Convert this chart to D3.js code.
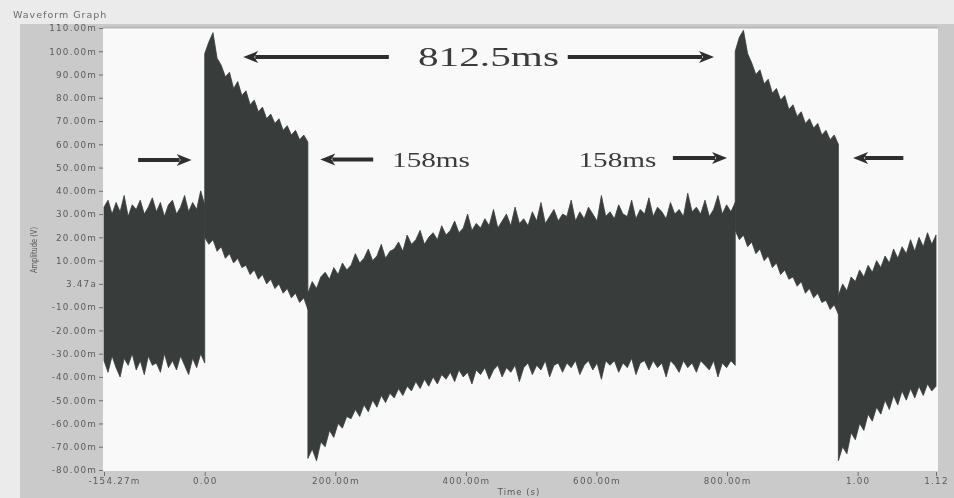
<!DOCTYPE html>
<html>
<head>
<meta charset="utf-8">
<script src="https://cdn.jsdelivr.net/npm/d3@7/dist/d3.min.js"></script>
<style>
  html, body { margin: 0; padding: 0; background: #ebebeb; }
  svg { display: block; }
  .axis text { font-family: "DejaVu Sans", sans-serif; font-size: 8.8px; fill: #5a5a5a; letter-spacing: 1.2px; }
  .axis line { stroke: #6f6f6f; }
  .axis path { display: none; }
  .note { font-family: "Liberation Serif", "Times New Roman", serif; fill: #3a3a3a; }
</style>
</head>
<body>
<svg id="chart" width="954" height="498"></svg>
<script>
// time spans of the five parts of the trace (ms)
var segmentStartMs = [-154.27, 0, 158, 812.5, 970.5];
var segmentEndMs = [0, 158, 812.5, 970.5, 1120];

// envelope of the trace, mV
var upperPre = [33, 36, 30, 35, 31, 38, 29, 34, 32, 36, 30, 33, 37, 31, 35, 29, 34, 36, 30, 33, 38, 31, 35, 32, 40, 34];
var lowerPre = [-33, -38, -31, -36, -40, -32, -35, -30, -37, -33, -39, -31, -35, -34, -38, -30, -36, -33, -37, -31, -35, -39, -32, -36, -30, -34];

var upperPulse1 = [99, 104, 108, 97, 94, 89, 91, 84, 87, 81, 83, 77, 79, 74, 76, 71, 73, 69, 71, 66, 68, 64, 66, 62, 64, 61];
var lowerPulse1 = [20, 17, 19, 14, 16, 11, 13, 9, 11, 7, 8, 4, 6, 2, 4, 0, 2, -2, 0, -4, -2, -6, -4, -8, -6, -11];

var upperMid = [
  -4, 1, -2, 3, 5, 2, 7, 4, 9, 6,
  8, 13, 9, 11, 15, 10, 12, 17, 11, 14,
  15, 18, 14, 21, 17, 19, 23, 17, 20, 22,
  19, 25, 21, 23, 27, 22, 24, 30, 23, 26,
  24, 28, 25, 32, 24, 27, 30, 25, 33, 26,
  28, 25, 31, 27, 35, 26, 29, 32, 27, 30,
  29, 36, 27, 31, 28, 33, 30, 27, 38, 29,
  31, 28, 34, 30, 29, 36, 28, 32, 30, 37,
  29, 33, 31, 28, 35, 30, 32, 29, 39, 31,
  33, 30, 36, 29, 32, 38, 30, 34, 31, 35
];
var lowerMid = [
  -75, -71, -76, -68, -70, -63, -66, -60, -62, -57,
  -58, -54, -57, -52, -55, -50, -53, -48, -51, -47,
  -49, -45, -48, -44, -46, -42, -45, -41, -44, -40,
  -43, -39, -41, -38, -42, -37, -40, -38, -43, -37,
  -39, -36, -41, -37, -35, -40, -36, -38, -35, -42,
  -36, -34, -39, -35, -37, -33, -40, -35, -34, -38,
  -34, -36, -33, -39, -35, -33, -37, -34, -41, -33,
  -35, -33, -38, -34, -36, -32, -39, -34, -33, -37,
  -33, -36, -34, -40, -33, -35, -38, -33, -36, -34,
  -38, -33, -35, -37, -33, -40, -34, -36, -33, -35
];

var upperPulse2 = [100, 106, 109, 99, 95, 90, 92, 86, 88, 82, 84, 79, 81, 75, 77, 72, 74, 69, 71, 67, 69, 64, 66, 62, 64, 60];
var lowerPulse2 = [23, 19, 21, 16, 18, 13, 15, 10, 12, 7, 9, 4, 6, 2, 3, -1, 1, -4, -2, -6, -4, -8, -7, -11, -9, -13];

var upperPost = [-5, 0, -3, 3, 1, 6, 3, 8, 5, 10, 7, 12, 9, 15, 11, 16, 13, 19, 14, 20, 16, 22, 17, 21];
var lowerPost = [-76, -70, -73, -64, -67, -60, -63, -56, -59, -53, -56, -50, -54, -48, -52, -46, -50, -45, -49, -44, -48, -43, -46, -44];

var upperSeries = [upperPre, upperPulse1, upperMid, upperPulse2, upperPost];
var lowerSeries = [lowerPre, lowerPulse1, lowerMid, lowerPulse2, lowerPost];

// axis ticks
var yTickValues = [110, 100, 90, 80, 70, 60, 50, 40, 30, 20, 10, 0, -10, -20, -30, -40, -50, -60, -70, -80];
var yTickLabels = ["110.00m", "100.00m", "90.00m", "80.00m", "70.00m", "60.00m", "50.00m", "40.00m", "30.00m", "20.00m", "10.00m", "3.47a",
  "-10.00m", "-20.00m", "-30.00m", "-40.00m", "-50.00m", "-60.00m", "-70.00m", "-80.00m"];
var xTickValues = [-154.27, 0, 200, 400, 600, 800, 1000, 1120];
var xTickLabels = ["-154.27m", "0.00", "200.00m", "400.00m", "600.00m", "800.00m", "1.00", "1.12"];

// hand drawn annotations (ms / mV)
var arrowFromMs = [282, 556, -102, 258, 717, 1070];
var arrowToMs = [59, 780, -20, 177, 800, 993];
var arrowLevelMv = [97.5, 97.5, 53.3, 53.5, 54.1, 54.1];
var noteLabels = ["812.5ms", "158ms", "158ms"];
var noteMs = [434.6, 346.6, 632.2];
var noteMv = [93.7, 50.2, 50.2];

var svg = d3.select('#chart');
var defs = svg.append('defs');
defs.append('filter').attr('id', 'soft').append('feGaussianBlur').attr('stdDeviation', 0.55);

var root = svg.append('g').attr('filter', 'url(#soft)');

var x = d3.scaleLinear().domain([-154.27, 1120]).range([104, 936]);
var y = d3.scaleLinear().domain([-80, 110]).range([470, 28]);

// panel + plot background
root.append('rect').attr('x', 20).attr('y', 24).attr('width', 934).attr('height', 474).attr('fill', '#cacaca');
root.append('rect').attr('x', 103).attr('y', 28).attr('width', 835).attr('height', 443).attr('fill', '#f9f9f9');
root.append('line').attr('x1', 103).attr('x2', 938).attr('y1', 27.5).attr('y2', 27.5).attr('stroke', '#b8b8b8').attr('stroke-width', 2);

root.append('text').attr('x', 13).attr('y', 18)
  .style('font-family', '"DejaVu Sans", sans-serif').style('font-size', '9.5px').style('letter-spacing', '1px')
  .attr('fill', '#6a6a6a').text('Waveform Graph');

// trace
var area = d3.area()
  .x(function(d) { return x(d.t); })
  .y0(function(d) { return y(d.lo); })
  .y1(function(d) { return y(d.hi); });

var segments = segmentStartMs.map(function(start, s) {
  var hi = upperSeries[s], lo = lowerSeries[s], end = segmentEndMs[s];
  return hi.map(function(v, i) {
    return { t: start + i * (end - start) / (hi.length - 1), hi: v, lo: lo[i] };
  });
});

root.append('g').selectAll('path').data(segments).enter().append('path')
  .attr('d', area)
  .attr('fill', '#383d3a')
  .attr('stroke', '#383d3a')
  .attr('stroke-width', 0.8)
  .attr('stroke-linejoin', 'round');

// axes
var yAxis = root.append('g').attr('class', 'axis').attr('transform', 'translate(103,0)')
  .call(d3.axisLeft(y).tickValues(yTickValues).tickSize(4).tickPadding(2)
    .tickFormat(function(d, i) { return yTickLabels[i]; }));

var xAxis = root.append('g').attr('class', 'axis').attr('transform', 'translate(0,472)')
  .call(d3.axisBottom(x).tickValues(xTickValues).tickSize(4).tickPadding(2)
    .tickFormat(function(d, i) { return xTickLabels[i]; }));
xAxis.selectAll('.tick text').filter(function(d, i) { return i === 0; }).attr('dx', 10);

root.append('text').attr('x', 519).attr('y', 495).attr('text-anchor', 'middle')
  .style('font-family', '"DejaVu Sans", sans-serif').style('font-size', '8.5px').style('letter-spacing', '1px')
  .attr('fill', '#595959').text('Time (s)');

root.append('text').attr('transform', 'translate(37,250) rotate(-90)').attr('text-anchor', 'middle')
  .style('font-family', '"DejaVu Sans", sans-serif').style('font-size', '8px')
  .attr('textLength', 46).attr('lengthAdjust', 'spacingAndGlyphs')
  .attr('fill', '#595959').text('Amplitude (V)');

// arrows
var arrows = root.append('g');
arrowFromMs.forEach(function(from, i) {
  var x0 = x(from), x1 = x(arrowToMs[i]), yy = y(arrowLevelMv[i]);
  var dir = x1 > x0 ? 1 : -1;
  var head = 15;
  arrows.append('line')
    .attr('x1', x0).attr('x2', x1 - dir * (head - 3))
    .attr('y1', yy).attr('y2', yy)
    .attr('stroke', '#2f2f2f').attr('stroke-width', 4);
  arrows.append('path')
    .attr('d', 'M' + x1 + ',' + yy +
      'L' + (x1 - dir * head) + ',' + (yy - 6) +
      'L' + (x1 - dir * (head - 4)) + ',' + yy +
      'L' + (x1 - dir * head) + ',' + (yy + 6) + 'Z')
    .attr('fill', '#2f2f2f');
});

root.selectAll('.note').data(noteLabels).enter().append('text')
  .attr('class', 'note')
  .attr('x', function(d, i) { return x(noteMs[i]); })
  .attr('y', function(d, i) { return y(noteMv[i]); })
  .attr('text-anchor', 'middle')
  .style('font-size', function(d, i) { return i === 0 ? '28px' : '21px'; })
  .attr('textLength', function(d, i) { return i === 0 ? 141 : 78; })
  .attr('lengthAdjust', 'spacingAndGlyphs')
  .text(function(d) { return d; });
</script>
</body>
</html>
